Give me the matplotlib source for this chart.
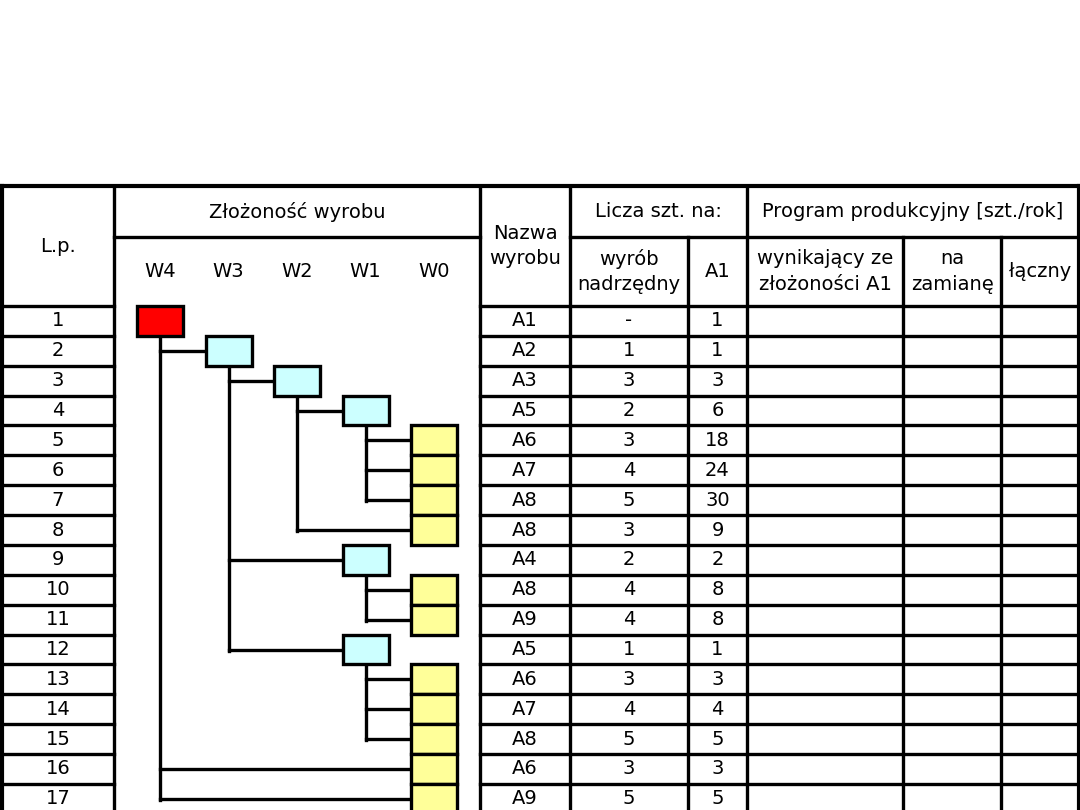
import matplotlib.pyplot as plt
from matplotlib.patches import Rectangle

# table data (one entry per row)
lp = list(range(1, 18))
names = ['A1', 'A2', 'A3', 'A5', 'A6', 'A7', 'A8', 'A8', 'A4',
         'A8', 'A9', 'A5', 'A6', 'A7', 'A8', 'A6', 'A9']
qty_parent = ['-', '1', '3', '2', '3', '4', '5', '3', '2',
              '4', '4', '1', '3', '4', '5', '3', '5']
qty_a1 = [1, 1, 3, 6, 18, 24, 30, 9, 2, 8, 8, 1, 3, 4, 5, 3, 5]

# product structure: level (W4..W0) and index of parent row
levels = [4, 3, 2, 1, 0, 0, 0, 0, 1, 0, 0, 1, 0, 0, 0, 0, 0]
parents = [None, 0, 1, 2, 3, 3, 3, 2, 1, 8, 8, 1, 11, 11, 11, 0, 0]

level_labels = ['W4', 'W3', 'W2', 'W1', 'W0']
level_colors = {4: '#ff0000', 3: '#ccffff', 2: '#ccffff', 1: '#ccffff', 0: '#ffff99'}

# layout (pixels)
col_x = [2, 114, 480, 570, 688, 747, 903, 1001, 1079]
y_top = 186
y_mid = 237
y_head = 306
row_h = 29.87
y_bot = 830
w4_x = 160
level_step = 68.5
box_w = 46
lw = 2.4
fs = 14

fig = plt.figure(figsize=(10.8, 8.1), dpi=100)
ax = fig.add_axes([0, 0, 1, 1])
ax.set_xlim(0, 1080)
ax.set_ylim(810, 0)
ax.axis('off')


def hline(y, x0, x1, w=lw):
    ax.plot([x0, x1], [y, y], color='black', lw=w, solid_capstyle='projecting', zorder=3)


def vline(x, y0, y1, w=lw):
    ax.plot([x, x], [y0, y1], color='black', lw=w, solid_capstyle='projecting', zorder=3)


def txt(x, y, s, **kw):
    ax.text(x, y, s, ha='center', va='center', fontsize=fs, linespacing=1.45, **kw)


# outer frame and header grid
hline(y_top, col_x[0], col_x[-1], 3)
vline(col_x[0], y_top, y_bot, 3)
vline(col_x[-1], y_top, y_bot, 3)
for x in [col_x[1], col_x[2], col_x[3], col_x[5]]:
    vline(x, y_top, y_bot)
for x in [col_x[4], col_x[6], col_x[7]]:
    vline(x, y_mid, y_bot)
hline(y_mid, col_x[1], col_x[2])
hline(y_mid, col_x[3], col_x[-1])

# row lines (no lines inside the structure column)
for i in range(len(lp) + 1):
    y = y_head + i * row_h
    hline(y, col_x[0], col_x[1])
    hline(y, col_x[2], col_x[-1])

# header texts
txt((col_x[0] + col_x[1]) / 2, (y_top + y_head) / 2, 'L.p.')
txt((col_x[1] + col_x[2]) / 2, (y_top + y_mid) / 2, 'Złożoność wyrobu')
for k, lab in enumerate(level_labels):
    txt(w4_x + k * level_step, (y_mid + y_head) / 2, lab)
txt((col_x[2] + col_x[3]) / 2, (y_top + y_head) / 2, 'Nazwa\nwyrobu')
txt((col_x[3] + col_x[5]) / 2, (y_top + y_mid) / 2, 'Licza szt. na:')
txt((col_x[3] + col_x[4]) / 2, (y_mid + y_head) / 2, 'wyrób\nnadrzędny')
txt((col_x[4] + col_x[5]) / 2, (y_mid + y_head) / 2, 'A1')
txt((col_x[5] + col_x[-1]) / 2, (y_top + y_mid) / 2, 'Program produkcyjny [szt./rok]')
txt((col_x[5] + col_x[6]) / 2, (y_mid + y_head) / 2, 'wynikający ze\nzłożoności A1')
txt((col_x[6] + col_x[7]) / 2, (y_mid + y_head) / 2, 'na\nzamianę')
txt((col_x[7] + col_x[8]) / 2, (y_mid + y_head) / 2, 'łączny')

# data rows
for i in range(len(lp)):
    yc = y_head + (i + 0.5) * row_h
    txt((col_x[0] + col_x[1]) / 2, yc, str(lp[i]))
    txt((col_x[2] + col_x[3]) / 2, yc, names[i])
    txt((col_x[3] + col_x[4]) / 2, yc, qty_parent[i])
    txt((col_x[4] + col_x[5]) / 2, yc, str(qty_a1[i]))


def level_x(lev):
    return w4_x + (4 - lev) * level_step


# tree connectors
last_child = {}
for i, p in enumerate(parents):
    if p is None:
        continue
    last_child[p] = i
    yc = y_head + (i + 0.5) * row_h
    ax.plot([level_x(levels[p]), level_x(levels[i]) - box_w / 2], [yc, yc],
            color='black', lw=lw, zorder=2)
for p, c in last_child.items():
    ax.plot([level_x(levels[p])] * 2,
            [y_head + (p + 1) * row_h, y_head + (c + 0.5) * row_h + lw / 2],
            color='black', lw=lw, zorder=2)

# boxes
for i, lev in enumerate(levels):
    ax.add_patch(Rectangle((level_x(lev) - box_w / 2, y_head + i * row_h), box_w, row_h,
                           facecolor=level_colors[lev], edgecolor='black', lw=lw, zorder=4))

fig.savefig('out.png', dpi=100)
